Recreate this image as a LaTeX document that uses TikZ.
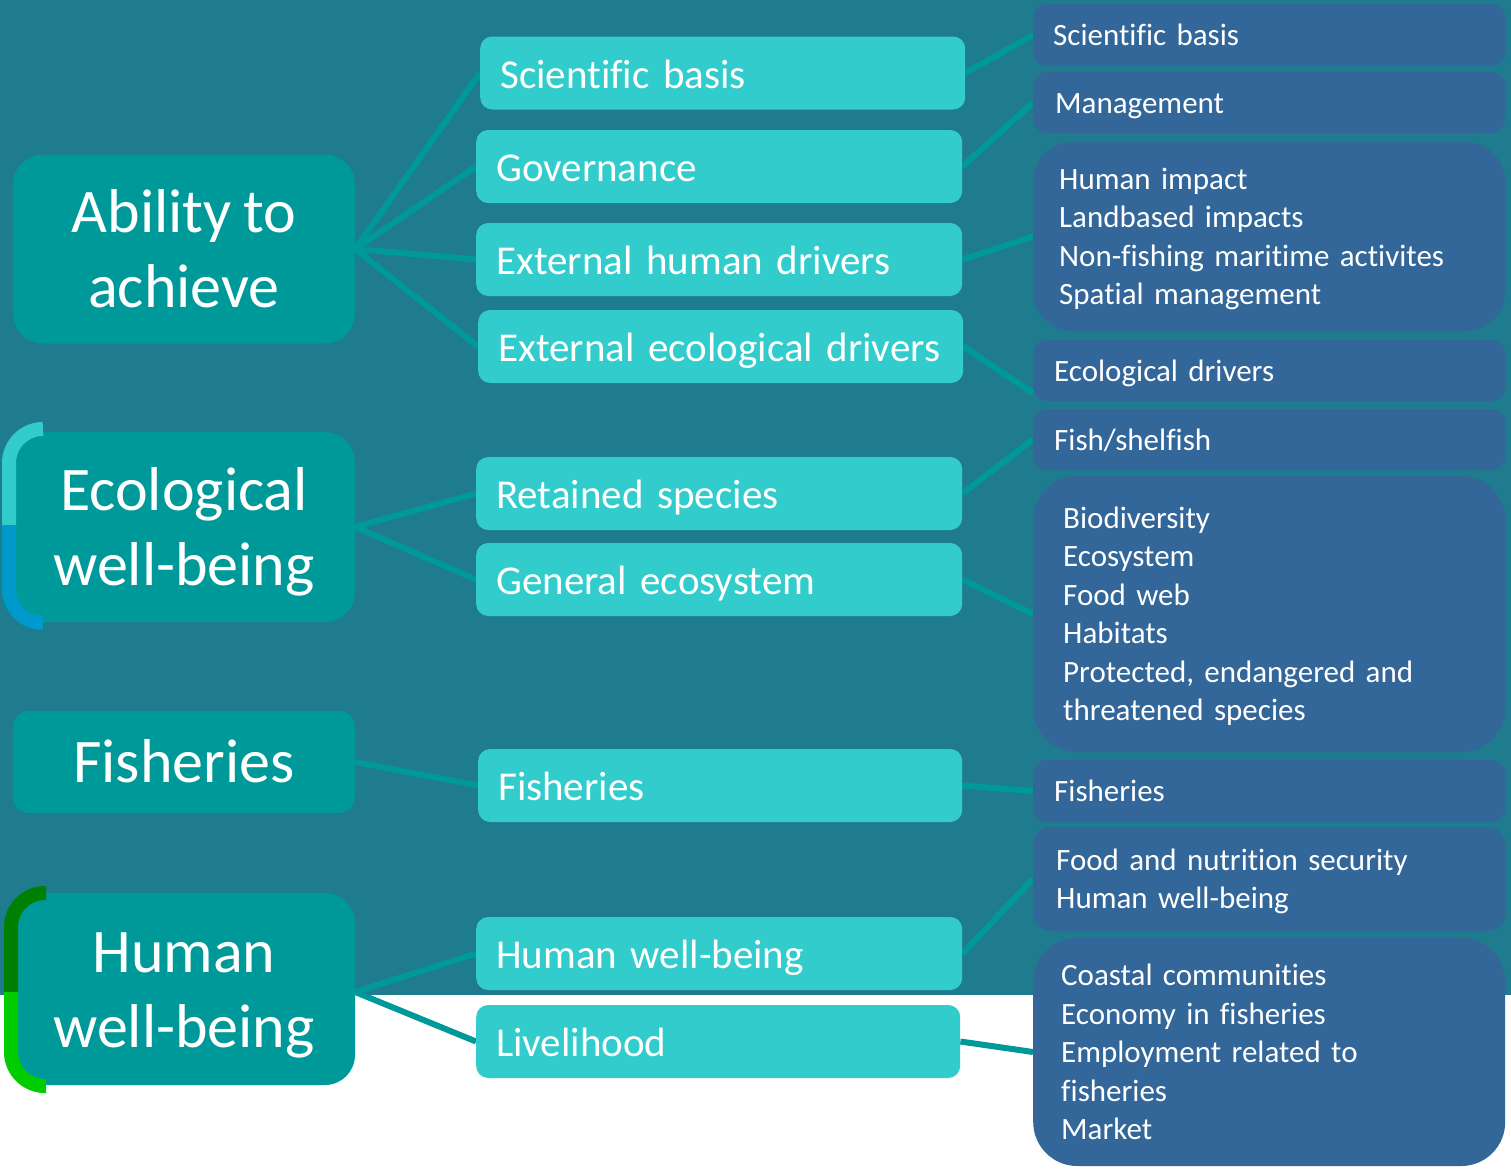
\documentclass[tikz,border=0pt]{standalone}
\usepackage{fontspec}
\setmainfont[Ligatures=NoCommon,WordSpace=0.85]{Carlito}
\usetikzlibrary{backgrounds,calc}
\definecolor{bgteal}{RGB}{31,123,142}
\definecolor{lcol}{RGB}{0,153,153}
\definecolor{mcol}{RGB}{51,204,204}
\definecolor{rcol}{RGB}{51,102,153}
\definecolor{linkcol}{RGB}{0,153,153}
\definecolor{brcyan}{RGB}{51,204,204}
\definecolor{brblue}{RGB}{0,153,204}
\definecolor{brdgreen}{RGB}{0,128,0}
\definecolor{brlgreen}{RGB}{0,204,0}
\newcommand\lstr{\rule[-14pt]{0pt}{69pt}}
\newcommand\mstr{\rule[-7.6pt]{0pt}{45.6pt}}
\newcommand\rstr{\rule[-8pt]{0pt}{37pt}}
\tikzset{
  lbox/.style={fill=lcol, rounded corners=30pt, minimum width=342pt, text=white,
    align=center, inner sep=0pt, font=\fontsize{62}{75}\selectfont},
  mbox/.style={fill=mcol, rounded corners=12pt, text width=446pt, inner xsep=20pt,
    inner ysep=0pt, minimum height=73pt, text=white, align=left, anchor=west,
    font=\fontsize{41}{49}\selectfont},
  rbox/.style={fill=rcol, rounded corners=14pt, text width=430pt, inner xsep=21pt,
    inner ysep=0pt, text=white, align=left, anchor=west,
    font=\fontsize{31}{38.5}\selectfont},
  link/.style={draw=linkcol, line width=6pt},
  brace/.style={line width=14pt, rounded corners=34pt}
}
\begin{document}
\begin{tikzpicture}[x=1pt,y=-1pt]
\useasboundingbox (0,0) rectangle (1511,1168);

% left boxes
\node[lbox, minimum height=189pt] (abil) at (184,249) {\lstr Ability to\\\lstr achieve};
\node[lbox, minimum height=190pt] (ecol) at (184,527) {\lstr Ecological\\\lstr well-being};
\node[lbox, minimum height=102pt, rounded corners=16pt] (lfis) at (184,762) {\lstr Fisheries};
\node[lbox, minimum height=192pt] (lhum) at (184,989) {\lstr Human\\\lstr well-being};

% brackets
\draw[brace, brcyan] (43,429) -- (9,429) -- (9,525);
\draw[brace, brblue] (9,525) -- (9,623) -- (43,623);
\draw[brace, brdgreen] (46,893) -- (11,893) -- (11,992);
\draw[brace, brlgreen] (11,992) -- (11,1086) -- (46,1086);

% middle boxes
\node[mbox, text width=445pt] (msci) at (480,73) {\mstr Scientific basis};
\node[mbox] (mgov) at (476,166.5) {\mstr Governance};
\node[mbox] (mhum) at (476,259.5) {\mstr External human drivers};
\node[mbox, text width=445pt] (meco) at (478,346.5) {\mstr External ecological drivers};
\node[mbox] (mret) at (476,493.5) {\mstr Retained species};
\node[mbox] (mgen) at (476,579.5) {\mstr General ecosystem};
\node[mbox, text width=444pt] (mfis) at (478,785.5) {\mstr Fisheries};
\node[mbox] (mhwb) at (476,953.5) {\mstr Human well-being};
\node[mbox, text width=444pt] (mliv) at (476,1041.5) {\mstr Livelihood};

% right boxes
\node[rbox, minimum height=62pt, inner xsep=20pt, text width=432pt] (rsci) at (1033,35) {\rstr Scientific basis};
\node[rbox, minimum height=61pt, inner xsep=22pt, text width=428pt] (rman) at (1033,102.5) {\rstr Management};
\node[rbox, minimum height=189pt, rounded corners=40pt, inner xsep=26pt, text width=420pt] (rhum) at (1033,236.5)
  {\rstr Human impact\\\rstr Landbased impacts\\\rstr Non-fishing maritime activites\\\rstr Spatial management};
\node[rbox, minimum height=61pt] (reco) at (1033,370.5) {\rstr Ecological drivers};
\node[rbox, minimum height=61pt] (rfish) at (1033,439.5) {\rstr Fish/shelfish};
\node[rbox, minimum height=276pt, rounded corners=44pt, inner xsep=30pt, text width=412pt] (rbio) at (1033,614)
  {\rstr Biodiversity\\\rstr Ecosystem\\\rstr Food web\\\rstr Habitats\\\rstr Protected, endangered and\\\rstr threatened species};
\node[rbox, minimum height=62pt] (rfis) at (1033,791) {\rstr Fisheries};
\node[rbox, minimum height=104pt, rounded corners=18pt, inner xsep=23pt, text width=426pt] (rfood) at (1033,879)
  {\rstr Food and nutrition security\\\rstr Human well-being};
\node[rbox, minimum height=228pt, rounded corners=44pt, inner xsep=28pt, text width=416pt] (rcoast) at (1033,1052)
  {\rstr Coastal communities\\\rstr Economy in fisheries\\\rstr Employment related to\\\rstr fisheries\\\rstr Market};

\begin{pgfonlayer}{background}
\fill[white] (0,0) rectangle (1511,1168);
\fill[bgteal] (0,0) rectangle (1511,995);
% left to middle
\draw[link] (abil.east) -- (msci.west);
\draw[link] (abil.east) -- (mgov.west);
\draw[link] (abil.east) -- (mhum.west);
\draw[link] (abil.east) -- (meco.west);
\draw[link] (ecol.east) -- (mret.west);
\draw[link] (ecol.east) -- (mgen.west);
\draw[link] (lfis.east) -- (mfis.west);
\draw[link] ([yshift=-3pt]lhum.east) -- (mhwb.west);
\draw[link] ([yshift=-3pt]lhum.east) -- (mliv.west);
% middle to right
\draw[link] (msci.east) -- (rsci.west);
\draw[link] (mgov.east) -- (rman.west);
\draw[link] (mhum.east) -- (rhum.west);
\draw[link] (meco.east) -- ([yshift=8pt]reco.south west);
\draw[link] (mret.east) -- (rfish.west);
\draw[link] (mgen.east) -- (rbio.west);
\draw[link] (mfis.east) -- (rfis.west);
\draw[link] (mhwb.east) -- (rfood.west);
\draw[link] (mliv.east) -- (rcoast.west);
\end{pgfonlayer}
\end{tikzpicture}
\end{document}
